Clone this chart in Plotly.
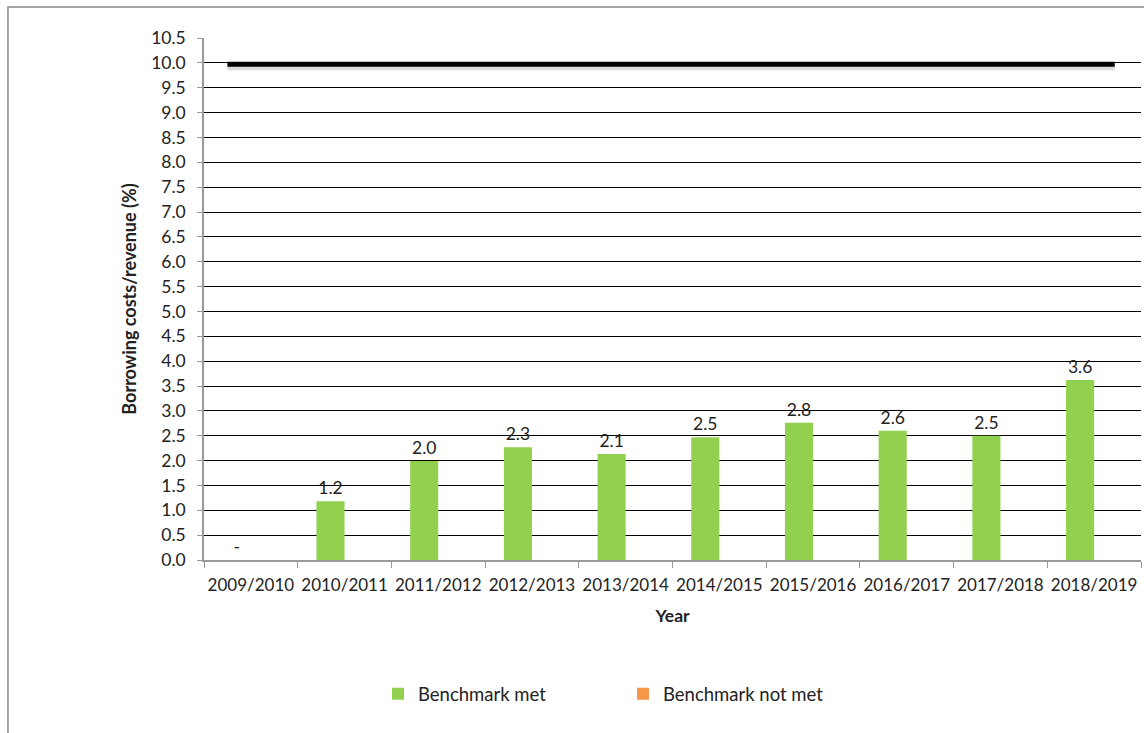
import plotly.graph_objects as go

years = ["2009/2010", "2010/2011", "2011/2012", "2012/2013", "2013/2014",
         "2014/2015", "2015/2016", "2016/2017", "2017/2018", "2018/2019"]
met_values = [0.0, 1.18, 1.99, 2.27, 2.13, 2.47, 2.76, 2.60, 2.50, 3.62]
met_labels = ["-", "1.2", "2.0", "2.3", "2.1", "2.5", "2.8", "2.6", "2.5", "3.6"]
not_met_values = [None] * 10
benchmark = [10.0, 10.0]
benchmark_x = [-0.25, 9.22]
y_ticks = [i * 0.5 for i in range(22)]

FONT = "Lato"
fig = go.Figure()

fig.add_trace(go.Bar(
    x=years, y=met_values, name="Benchmark met",
    marker=dict(color="#92d050", line=dict(width=0)),
    text=met_labels, textposition="outside", cliponaxis=False,
    textfont=dict(size=17.5, color="#222", family=FONT),
))
fig.add_trace(go.Bar(
    x=years, y=not_met_values, name="Benchmark not met",
    marker=dict(color="#f79646", line=dict(width=0)),
))
# shadow of the benchmark line
fig.add_trace(go.Scatter(
    x=benchmark_x, y=[b - 0.07 for b in benchmark], xaxis="x2", mode="lines",
    line=dict(color="rgba(0,0,0,0.15)", width=8), showlegend=False, hoverinfo="skip",
))
fig.add_trace(go.Scatter(
    x=benchmark_x, y=[b - 0.03 for b in benchmark], xaxis="x2", mode="lines",
    line=dict(color="black", width=5), showlegend=False,
))

fig.update_layout(
    width=1144, height=733,
    margin=dict(l=204, r=3, t=38, b=173, autoexpand=False),
    paper_bgcolor="white", plot_bgcolor="white",
    font=dict(family=FONT, size=17.5, color="#222"),
    barmode="group", bargap=0.4, bargroupgap=0,
    xaxis=dict(
        type="category", tickson="boundaries", ticks="outside", ticklen=6,
        tickcolor="#999", showline=True, linecolor="#999", linewidth=1.5,
        showgrid=False, tickfont=dict(size=17), ticklabelstandoff=9,
        tickangle=0, automargin=False,
        title=dict(text="<b>Year</b>", font=dict(size=17.5), standoff=16),
    ),
    xaxis2=dict(overlaying="x", range=[-0.5, 9.5], visible=False),
    yaxis=dict(
        range=[0, 10.5], tickvals=y_ticks, ticktext=[f"{v:.1f}" for v in y_ticks],
        ticks="outside", ticklen=5, tickcolor="#999", showline=True,
        linecolor="#999", linewidth=1.5, showgrid=True, gridcolor="black",
        gridwidth=1.3, zeroline=False, tickfont=dict(size=17.5), ticklabelstandoff=8,
        automargin=False,
        title=dict(text="<b>Borrowing costs/revenue (%)</b>", font=dict(size=18), standoff=10),
    ),
    legend=dict(
        orientation="h", x=0.1857, xanchor="left", y=-0.257, yanchor="middle",
        font=dict(size=18.5), entrywidth=200, itemwidth=30,
    ),
    shapes=[dict(
        type="rect", xref="paper", yref="paper", x0=-0.2092, x1=1.2,
        y0=-0.6, y1=1.0594, line=dict(color="#888", width=1.5), layer="below",
    )],
)

fig.write_html("out.html")
